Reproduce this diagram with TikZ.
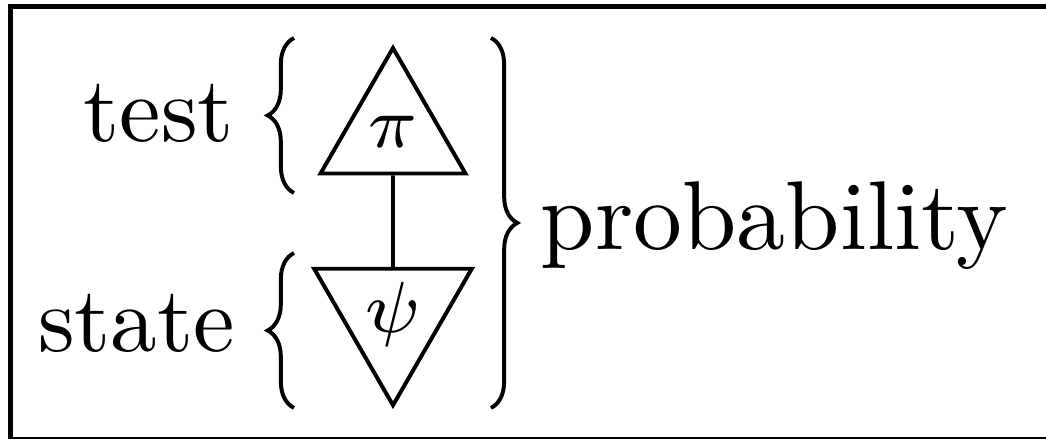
\RequirePackage{fix-cm}
\documentclass[tikz,border=0pt]{standalone}
\usetikzlibrary{shapes.geometric,decorations.pathreplacing}

\begin{document}
\begin{tikzpicture}[x=0.1064pt, y=-0.1064pt, line width=0.42pt, tri/.style={draw, regular polygon, regular polygon sides=3, minimum size=17.8pt, inner sep=0pt, font=\fontsize{7.7}{9}\selectfont}, word/.style={inner sep=0pt, font=\fontsize{9.9}{12}\selectfont}, bigword/.style={word, font=\fontsize{10.4}{12.5}\selectfont}, curly/.style={decorate, decoration={brace, amplitude=2.8pt}}, wire/.style={line width=0.42pt}]
\useasboundingbox (0,0) rectangle (1046,439);
\clip (0,0) rectangle (1046,439);
\draw[line width=0.53pt] (10.5,6.5) rectangle (1060,439.5);
\node[tri] (pi) at (393,131.7) {$\pi$};
\node[tri, shape border rotate=180] (psi) at (393,314.3) {$\psi$};
\draw[wire] (pi.south) -- (psi.north);
\node[word, anchor=base east] (test) at (236,142) {test};
\node[word, anchor=base east] (state) at (237,352) {state};
\node[bigword, anchor=base west] (prob) at (539,250) {probability};
\draw[curly] (294,193) -- (294,38);
\draw[curly] (294,408) -- (294,253);
\draw[curly] (491,38) -- (491,408);
\end{tikzpicture}
\end{document}
